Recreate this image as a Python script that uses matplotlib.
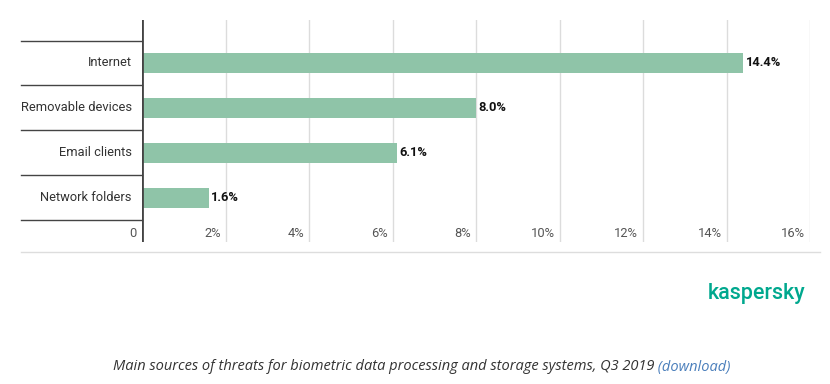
import matplotlib.pyplot as plt

categories = ["Internet", "Removable devices", "Email clients", "Network folders"]
values = [14.4, 8.0, 6.1, 1.6]
xticks = [0, 2, 4, 6, 8, 10, 12, 14, 16]
xtick_labels = ["0", "2%", "4%", "6%", "8%", "10%", "12%", "14%", "16%"]

plt.rcParams['font.family'] = ['Roboto', 'DejaVu Sans']

W, H = 830, 384
fig = plt.figure(figsize=(W / 100, H / 100), dpi=100)
left, right, top, bottom = 142, 810, 20, 242
ax = fig.add_axes([left / W, 1 - bottom / H, (right - left) / W, (bottom - top) / H])

ypos = list(range(len(categories)))
ax.set_xlim(0, 16)
ax.set_ylim(3.98, -0.956)

# gridlines
for t in xticks[1:]:
    ax.axvline(t, color="#dcdcdc", lw=1, zorder=0)

ax.barh(ypos, values, height=0.44, color="#8fc4a8", zorder=2)
for y, v in zip(ypos, values):
    ax.text(v + 0.06, y, f"{v:.1f}%", va="center", ha="left", fontsize=9.3,
            fontweight="bold", color="#111111")

# category labels
for y, c in zip(ypos, categories):
    ax.text(-0.24, y, c, va="center", ha="right", fontsize=9.3, color="#333333")

# tick labels on the last row
for t, lab in zip(xticks, xtick_labels):
    ax.text(t - 0.12, 3.78, lab, va="center", ha="right", fontsize=9.3, color="#555555")

# separators left of the axis
xmin = (21 - left) / (right - left)
for s in [-0.5, 0.5, 1.5, 2.5, 3.5]:
    ax.plot([xmin, 0], [s, s], transform=ax.get_yaxis_transform(), color="#444444",
            lw=1, clip_on=False)

ax.axvline(0, color="#444444", lw=2, zorder=3)

for sp in ax.spines.values():
    sp.set_visible(False)
ax.set_xticks([])
ax.set_yticks([])

# bottom light line
fig.add_artist(plt.Line2D([21 / W, 820 / W], [1 - 252 / H, 1 - 252 / H], color="#dddddd", lw=1))

fig.text(805 / W, 1 - 293 / H, "kaspersky", ha="right", va="center", fontsize=15.5,
         fontweight="medium", color="#00a88e")

cap_font = ["Open Sans", "DejaVu Sans"]
t1 = fig.text(113 / W, 1 - 367 / H,
              "Main sources of threats for biometric data processing and storage systems, Q3 2019",
              ha="left", va="center", fontsize=10.5, style="italic", color="#333333",
              family=cap_font)
fig.add_artist(plt.Annotation(" (download)", xy=(1, 0), xycoords=t1, va="bottom",
                              fontsize=10.5, style="italic", color="#4a7ebb",
                              family=cap_font))

fig.savefig("out.png", dpi=100)
